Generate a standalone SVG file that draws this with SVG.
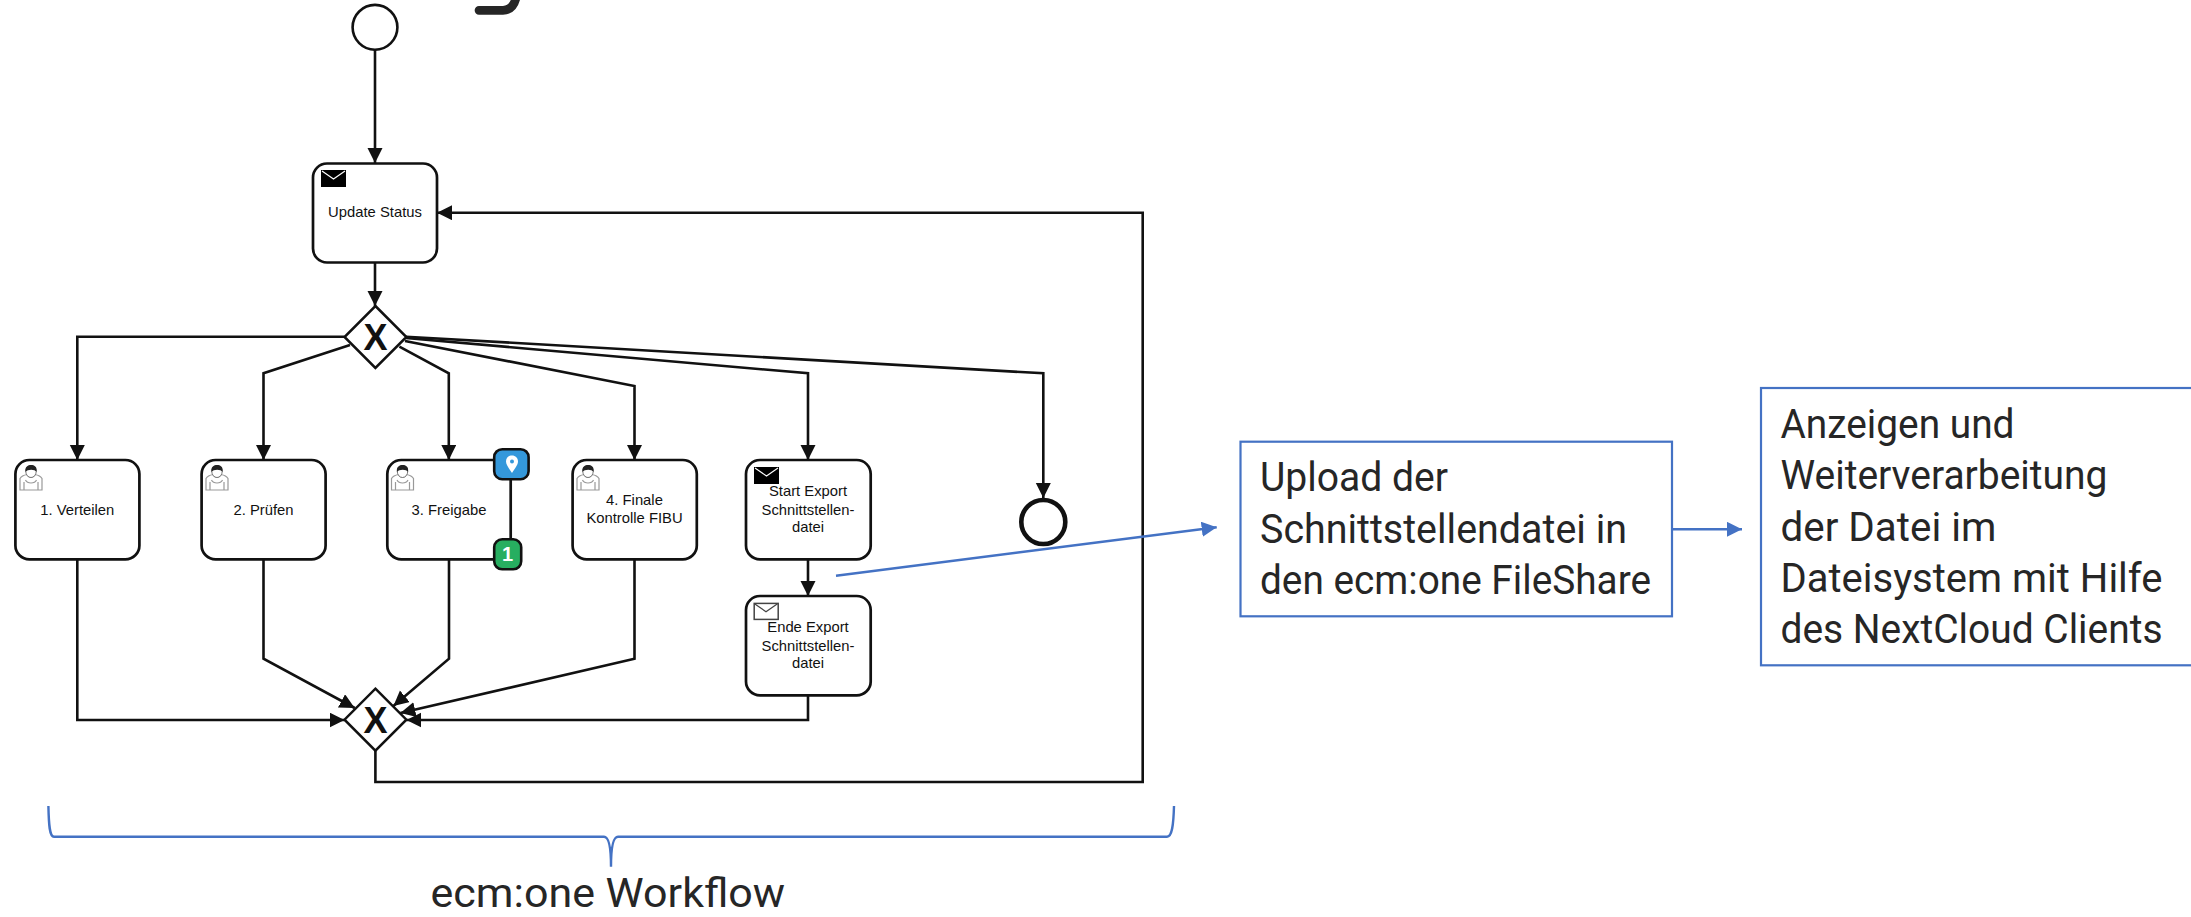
<svg xmlns="http://www.w3.org/2000/svg" xmlns:xlink="http://www.w3.org/1999/xlink" width="2191" height="917" viewBox="0 0 2191 917">
<style>
.task{fill:#fff;stroke:#111;stroke-width:2.7}
.gw{fill:#fff;stroke:#111;stroke-width:2.5}
.flow{fill:none;stroke:#111;stroke-width:2.6;stroke-linejoin:miter;marker-end:url(#ah)}
.blue{fill:none;stroke:#4472C4;stroke-width:2.4;marker-end:url(#bh)}
.box{fill:#fff;stroke:#4472C4;stroke-width:2.2}
.t{font-family:"Liberation Sans",Arial,sans-serif;font-size:14.8px;fill:#111;text-anchor:middle}
.x{font-family:"Liberation Sans",Arial,sans-serif;font-size:36px;font-weight:700;fill:#111;text-anchor:middle}
.big{font-family:Roboto,"Liberation Sans",sans-serif;font-weight:400;font-size:41px;fill:#262626}
</style>
<defs>
<marker id="ah" markerUnits="userSpaceOnUse" markerWidth="17" markerHeight="17" refX="15" refY="7.5" orient="auto"><path d="M0 0L15 7.5L0 15z" fill="#111"/></marker>
<marker id="bh" markerUnits="userSpaceOnUse" markerWidth="18" markerHeight="18" refX="15" refY="7.5" orient="auto"><path d="M0 0L15 7.5L0 15z" fill="#4472C4"/></marker>
<g id="user">
<path d="M.5 25V13.5C2 11 5 10 7.5 9.5C9 13 14 13 15.5 9.5C18 10 21 11 22.5 13.5V25z M4.5 25V17 M18.5 25V17 M6 15C8 19 15 19 17 15" fill="#fff" stroke="#999" stroke-width="1.2"/>
<ellipse cx="11.5" cy="6.5" rx="5.2" ry="6" fill="#fff" stroke="#777" stroke-width="1"/>
<path d="M6 7C5 1.5 9 0 11.5 0C14.5 0 18 1.5 17 7C15.5 4 8 4 6 7z" fill="#222"/>
</g>
<g id="mailB"><rect width="25" height="17" fill="#000"/><path d="M1 1L12.5 9L24 1" fill="none" stroke="#fff" stroke-width="1.2"/></g>
<g id="mailW"><rect x=".7" y=".7" width="24" height="16" fill="#fff" stroke="#444" stroke-width="1.5"/><path d="M1 1L12.5 9L24 1" fill="none" stroke="#444" stroke-width="1.3"/></g>
</defs>

<rect width="2191" height="917" fill="#fff"/>

<path id="title-fragment" d="M479 10.3H503C510 10.3 514 6 516 -2" fill="none" stroke="#262626" stroke-width="8.7" stroke-linecap="round"/>

<g id="start"><circle cx="375" cy="27.3" r="22.4" fill="#fff" stroke="#111" stroke-width="2.6"/></g>

<g id="update-status"><rect class="task" x="313" y="163.5" width="124" height="99" rx="14"/><use xlink:href="#mailB" x="321" y="170"/><text class="t" x="375" y="217">Update Status</text></g>

<g id="gateway-split"><path class="gw" d="M375.4 306L406.4 337L375.4 368L344.5 337z"/><text class="x" x="375.4" y="349.5">X</text></g>

<g id="task-1"><rect class="task" x="15.4" y="460" width="124" height="99.4" rx="14"/><use xlink:href="#user" x="19.5" y="465"/><text class="t" x="77.3" y="514.5">1. Verteilen</text></g>
<g id="task-2"><rect class="task" x="201.6" y="460" width="124" height="99.4" rx="14"/><use xlink:href="#user" x="205.5" y="465"/><text class="t" x="263.5" y="514.5">2. Prüfen</text></g>
<g id="task-3"><rect class="task" x="387.3" y="460" width="123.4" height="99.4" rx="14"/><use xlink:href="#user" x="391" y="465"/><text class="t" x="449" y="514.5">3. Freigabe</text>
<rect x="494.2" y="449.2" width="34.4" height="30" rx="8" fill="#3498DB" stroke="#111" stroke-width="2.6"/>
<path d="M512 455.5C508.5 455.5 506 458 506 461.5C506 465 509.5 469 512 473C514.5 469 518 465 518 461.5C518 458 515.5 455.5 512 455.5z" fill="#fff"/><circle cx="512" cy="461.5" r="2" fill="#3498DB"/>
<rect x="494.2" y="539.3" width="27" height="30" rx="8" fill="#27AE60" stroke="#111" stroke-width="2.6"/>
<text x="507.5" y="561" font-family="Liberation Sans,Arial,sans-serif" font-size="20" font-weight="700" fill="#fff" text-anchor="middle">1</text></g>
<g id="task-4"><rect class="task" x="572.6" y="460" width="124.2" height="99.4" rx="14"/><use xlink:href="#user" x="576.5" y="465"/><text class="t" x="634.5" y="504.5">4. Finale</text><text class="t" x="634.5" y="523">Kontrolle FIBU</text></g>
<g id="task-start-export"><rect class="task" x="746" y="460" width="124.7" height="99.4" rx="14"/><use xlink:href="#mailB" x="754" y="467"/><text class="t" x="808" y="496">Start Export</text><text class="t" x="808" y="514.5">Schnittstellen-</text><text class="t" x="808" y="532">datei</text></g>
<g id="task-end-export"><rect class="task" x="746" y="596" width="124.7" height="99.4" rx="14"/><use xlink:href="#mailW" x="753.5" y="602.7"/><text class="t" x="808" y="632">Ende Export</text><text class="t" x="808" y="650.5">Schnittstellen-</text><text class="t" x="808" y="668">datei</text></g>

<g id="end"><circle cx="1043.3" cy="522" r="22" fill="#fff" stroke="#111" stroke-width="4.6"/></g>

<g id="gateway-join"><path class="gw" d="M375.4 688.7L406.4 719.7L375.4 750.7L344.5 719.7z"/><text class="x" x="375.4" y="733">X</text></g>

<g id="connectors">
<path class="flow" d="M375 50V163"/>
<path class="flow" d="M375 263V306"/>
<path class="flow" d="M344.5 336.7H77.3V460"/>
<path class="flow" d="M350 345L263.5 373.3V460"/>
<path class="flow" d="M399.4 346.7L448.8 373.3V460"/>
<path class="flow" d="M405 341L634.5 386V460"/>
<path class="flow" d="M406 338L808 373.3V460"/>
<path class="flow" d="M406 336.7L1043.3 373.3V498"/>
<path class="flow" d="M808 559.4V596"/>
<path class="flow" d="M77.3 559.4V720H344.5"/>
<path class="flow" d="M263.5 559.4V658.7L354.7 708"/>
<path class="flow" d="M449 559.4V658.7L393.4 706"/>
<path class="flow" d="M634.5 559.4V658.7L400.4 713"/>
<path class="flow" d="M808 695.4V720H406.4"/>
<path class="flow" d="M375.4 750.7V782H1142.7V212.7H437"/>
<path class="blue" d="M836 575.7L1216.7 527.3"/>
<path class="blue" d="M1672 529.3H1742"/>
</g>

<g id="upload-box"><rect class="box" x="1240.5" y="441.7" width="431.5" height="174.6"/>
<text class="big" x="1260" y="491" textLength="188" lengthAdjust="spacingAndGlyphs">Upload der</text>
<text class="big" x="1260" y="543" textLength="367" lengthAdjust="spacingAndGlyphs">Schnittstellendatei in</text>
<text class="big" x="1260" y="594" textLength="391" lengthAdjust="spacingAndGlyphs">den ecm:one FileShare</text></g>

<g id="display-box"><rect class="box" x="1761" y="388" width="440" height="277.3"/>
<text class="big" x="1780.5" y="437.7" textLength="234" lengthAdjust="spacingAndGlyphs">Anzeigen und</text>
<text class="big" x="1780.5" y="489.3" textLength="327" lengthAdjust="spacingAndGlyphs">Weiterverarbeitung</text>
<text class="big" x="1780.5" y="541" textLength="216" lengthAdjust="spacingAndGlyphs">der Datei im</text>
<text class="big" x="1780.5" y="591.7" textLength="382" lengthAdjust="spacingAndGlyphs">Dateisystem mit Hilfe</text>
<text class="big" x="1780.5" y="642.7" textLength="382" lengthAdjust="spacingAndGlyphs">des NextCloud Clients</text></g>

<g id="brace"><path d="M48.4 806C48.8 825 49.5 836.7 54 836.7H604C609 836.7 611 848 611 866.7C611 848 613 836.7 618 836.7H1167C1172 836.7 1173.5 825 1174 806" fill="none" stroke="#4472C4" stroke-width="2.4"/>
<text class="big" x="430.6" y="907" style="font-size:40px" textLength="354.5" lengthAdjust="spacingAndGlyphs">ecm:one Workflow</text></g>
</svg>
